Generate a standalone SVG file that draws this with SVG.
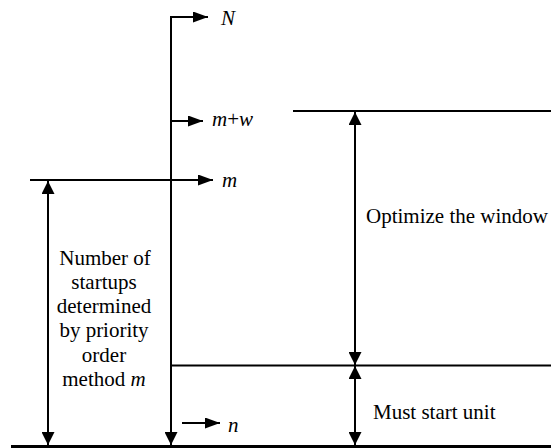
<svg xmlns="http://www.w3.org/2000/svg" width="551" height="448" viewBox="0 0 551 448">
<defs>
<marker id="ah" markerUnits="userSpaceOnUse" markerWidth="15" markerHeight="11" refX="15" refY="5.5" orient="auto-start-reverse">
<path d="M0,0 L15,5.5 L0,11 z" fill="#000"/>
</marker>
<marker id="av" markerUnits="userSpaceOnUse" markerWidth="13" markerHeight="13" refX="13" refY="6.5" orient="auto-start-reverse">
<path d="M0,0 L13,6.5 L0,13 z" fill="#000"/>
</marker>
</defs>
<style>
.ln{stroke:#000;stroke-width:2;fill:none}
.ar{stroke:#000;stroke-width:2;fill:none;marker-end:url(#ah)}
.vr{stroke:#000;stroke-width:2;fill:none;marker-end:url(#av)}
.dar{stroke:#000;stroke-width:2;fill:none;marker-start:url(#av);marker-end:url(#av)}
.it{font-style:italic}
</style>
<rect width="551" height="448" fill="#fff"/>
<g id="connectors">
<line class="vr" x1="171" y1="17" x2="171" y2="445"/>
<line class="ar" x1="170" y1="17" x2="208" y2="17"/>
<line class="ar" x1="171" y1="121" x2="203" y2="121"/>
<line class="ar" x1="30" y1="180" x2="213" y2="180"/>
<line class="dar" x1="48" y1="181" x2="48" y2="445"/>
<line class="ln" x1="293" y1="111" x2="551" y2="111"/>
<line class="dar" x1="355" y1="112" x2="355" y2="365"/>
<line class="ln" x1="171" y1="365.5" x2="551" y2="365.5"/>
<line class="dar" x1="355" y1="366" x2="355" y2="445"/>
<line class="ln" x1="11" y1="446.5" x2="551" y2="446.5" style="stroke-width:3"/>
<line class="ar" x1="182" y1="423" x2="220" y2="423"/>
</g>
<g font-family="Liberation Serif, Times New Roman, serif" font-size="21" fill="#000">
<g id="label-N"><text class="it" x="221" y="25">N</text></g>
<g id="label-mw"><text x="212" y="126"><tspan class="it">m</tspan>+<tspan class="it">w</tspan></text></g>
<g id="label-m"><text class="it" x="222" y="187">m</text></g>
<g id="label-n"><text class="it" x="228" y="432">n</text></g>
<g id="label-window"><text x="366" y="223">Optimize the window</text></g>
<g id="label-must"><text x="373" y="419">Must start unit</text></g>
<g id="label-priority">
<text text-anchor="middle" x="105" y="265">Number of</text>
<text text-anchor="middle" x="104" y="289">startups</text>
<text text-anchor="middle" x="104" y="313">determined</text>
<text text-anchor="middle" x="104" y="337">by priority</text>
<text text-anchor="middle" x="104" y="362">order</text>
<text text-anchor="middle" x="104" y="386">method <tspan class="it">m</tspan></text>
</g>
</g>
</svg>
